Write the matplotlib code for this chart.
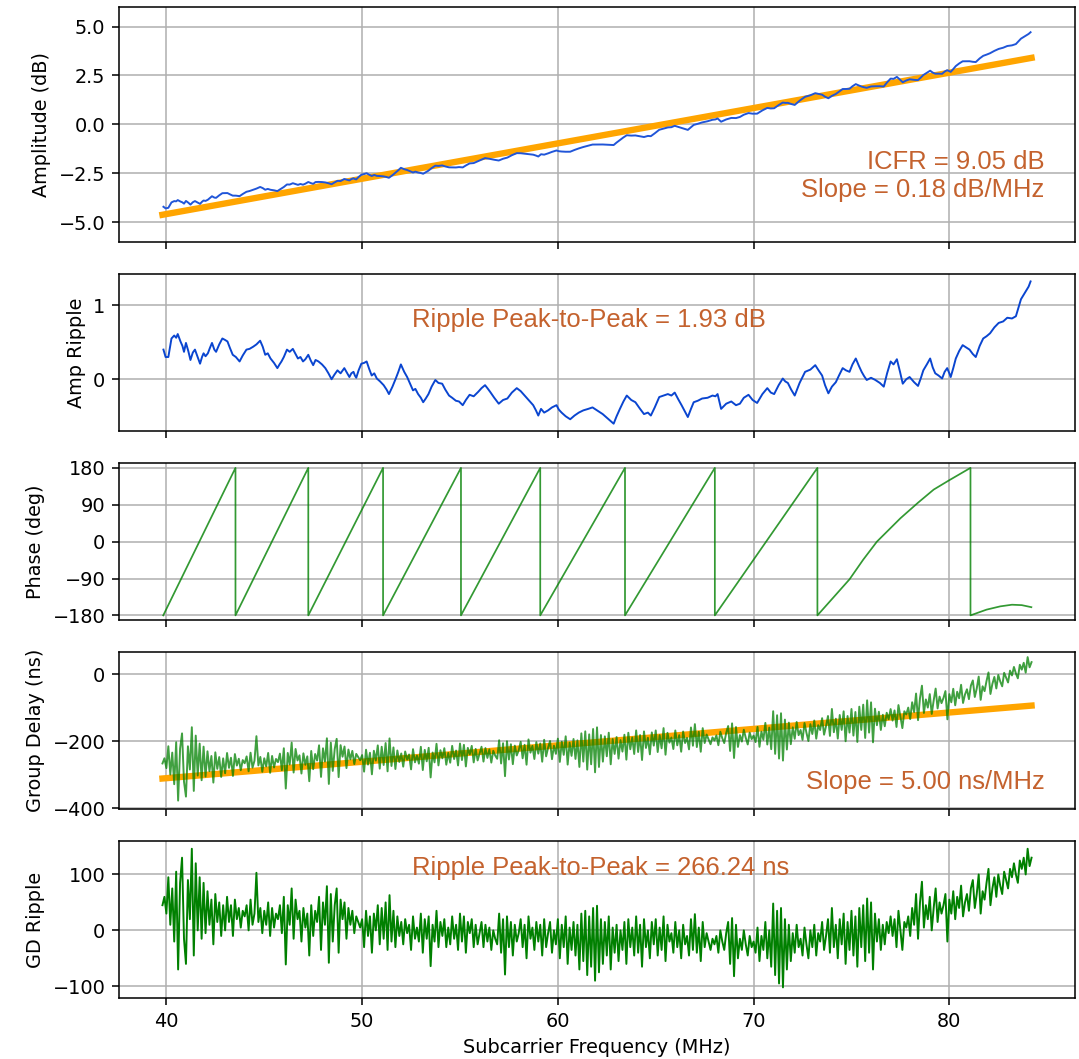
import numpy as np
import matplotlib
matplotlib.use("Agg")
import matplotlib.pyplot as plt

# ---- data ----
# amplitude fit line (end points) and amplitude ripple around it
amp_fit_freq = [39.8, 84.2]
amp_fit = [-4.62, 3.40]

amp_rip_freq = [
    39.85, 39.96, 40.10, 40.26, 40.40, 40.50, 40.58, 40.72, 40.82, 40.90,
    41.00, 41.12, 41.23, 41.35, 41.46, 41.60, 41.72, 41.82, 41.90, 42.00,
    42.12, 42.22, 42.33, 42.45, 42.54, 42.70, 42.86, 43.00, 43.12, 43.25,
    43.39, 43.55, 43.74, 43.90, 44.09, 44.25, 44.44, 44.60, 44.79, 44.92,
    45.05, 45.18, 45.32, 45.50, 45.67, 45.78, 45.88, 46.00, 46.16, 46.30,
    46.46, 46.60, 46.72, 46.85, 46.98, 47.10, 47.25, 47.38, 47.50, 47.62,
    47.77, 47.95, 48.12, 48.28, 48.44, 48.58, 48.74, 48.90, 49.09, 49.22,
    49.35, 49.45, 49.56, 49.63, 49.70, 49.82, 49.96, 50.10, 50.23, 50.36,
    50.49, 50.62, 50.75, 50.92, 51.10, 51.25, 51.37, 51.55, 51.72, 51.85,
    51.98, 52.15, 52.30, 52.45, 52.60, 52.72, 52.86, 53.00, 53.12, 53.25,
    53.39, 53.55, 53.74, 53.90, 54.09, 54.25, 54.44, 54.60, 54.79, 54.95,
    55.14, 55.30, 55.49, 55.70, 55.93, 56.10, 56.28, 56.40, 56.54, 56.75,
    56.98, 57.20, 57.42, 57.65, 57.90, 58.10, 58.30, 58.50, 58.74, 58.88,
    59.00, 59.14, 59.30, 59.50, 59.70, 59.93, 60.05, 60.19, 60.40, 60.63,
    60.85, 61.07, 61.30, 61.55, 61.77, 62.00, 62.29, 62.55, 62.85, 63.00,
    63.17, 63.35, 63.52, 63.75, 63.96, 64.20, 64.40, 64.60, 64.75, 64.95,
    65.18, 65.40, 65.62, 65.80, 65.97, 66.15, 66.32, 66.50, 66.64, 66.80,
    66.94, 67.15, 67.37, 67.65, 67.90, 68.05, 68.16, 68.25, 68.34, 68.60,
    68.86, 69.10, 69.30, 69.50, 69.74, 69.95, 70.18, 70.45, 70.70, 70.88,
    71.05, 71.28, 71.49, 71.62, 71.75, 71.92, 72.10, 72.35, 72.63, 72.90,
    73.15, 73.32, 73.50, 73.65, 73.82, 74.00, 74.20, 74.38, 74.55, 74.72,
    74.90, 75.05, 75.22, 75.38, 75.52, 75.65, 75.78, 76.00, 76.22, 76.45,
    76.65, 76.82, 77.00, 77.15, 77.32, 77.48, 77.62, 77.80, 77.97, 78.20,
    78.40, 78.55, 78.67, 78.85, 79.02, 79.15, 79.28, 79.45, 79.63, 79.76,
    79.89, 80.00, 80.07, 80.20, 80.33, 80.50, 80.68, 80.85, 81.03, 81.20,
    81.35, 81.55, 81.73, 81.90, 82.08, 82.30, 82.52, 82.75, 82.96, 83.20,
    83.40, 83.55, 83.66, 83.80, 83.92, 84.05, 84.15,
]
amp_ripple = [
    0.40, 0.30, 0.30, 0.55, 0.59, 0.56, 0.61, 0.51, 0.45, 0.37,
    0.49, 0.38, 0.26, 0.36, 0.40, 0.30, 0.21, 0.30, 0.35, 0.31,
    0.35, 0.42, 0.49, 0.40, 0.37, 0.47, 0.55, 0.53, 0.51, 0.42,
    0.33, 0.30, 0.24, 0.32, 0.40, 0.41, 0.44, 0.47, 0.52, 0.44,
    0.33, 0.35, 0.28, 0.22, 0.15, 0.20, 0.24, 0.30, 0.40, 0.37,
    0.41, 0.34, 0.28, 0.30, 0.24, 0.27, 0.33, 0.25, 0.19, 0.26,
    0.24, 0.20, 0.15, 0.08, 0.00, 0.06, 0.12, 0.08, 0.15, 0.09,
    0.03, 0.08, 0.10, 0.05, 0.02, 0.12, 0.21, 0.22, 0.24, 0.14,
    0.05, 0.08, 0.01, -0.03, -0.08, -0.14, -0.20, -0.10, 0.01, 0.10,
    0.20, 0.10, 0.03, -0.06, -0.15, -0.13, -0.20, -0.25, -0.31, -0.26,
    -0.20, -0.10, -0.01, -0.05, -0.06, -0.14, -0.22, -0.25, -0.29, -0.30,
    -0.35, -0.28, -0.21, -0.23, -0.17, -0.12, -0.08, -0.12, -0.17, -0.25,
    -0.33, -0.28, -0.26, -0.18, -0.12, -0.16, -0.22, -0.28, -0.35, -0.42,
    -0.49, -0.40, -0.45, -0.42, -0.38, -0.35, -0.41, -0.45, -0.50, -0.54,
    -0.49, -0.45, -0.42, -0.40, -0.38, -0.42, -0.47, -0.53, -0.60, -0.50,
    -0.40, -0.30, -0.22, -0.28, -0.31, -0.40, -0.47, -0.45, -0.49, -0.38,
    -0.24, -0.22, -0.20, -0.22, -0.18, -0.27, -0.35, -0.44, -0.51, -0.40,
    -0.31, -0.29, -0.26, -0.25, -0.22, -0.23, -0.20, -0.30, -0.40, -0.33,
    -0.30, -0.35, -0.33, -0.25, -0.21, -0.28, -0.32, -0.20, -0.12, -0.18,
    -0.20, -0.08, 0.01, -0.03, -0.05, -0.14, -0.22, -0.05, 0.10, 0.13,
    0.19, 0.12, 0.05, -0.08, -0.19, -0.10, -0.04, 0.06, 0.15, 0.12,
    0.10, 0.20, 0.28, 0.18, 0.10, 0.04, -0.01, 0.02, -0.01, -0.05,
    -0.10, 0.08, 0.24, 0.20, 0.27, 0.10, -0.06, 0.00, 0.03, -0.04,
    -0.09, 0.02, 0.12, 0.20, 0.28, 0.16, 0.08, 0.05, 0.01, 0.10,
    0.15, 0.08, 0.03, 0.15, 0.28, 0.38, 0.46, 0.43, 0.40, 0.34,
    0.30, 0.45, 0.55, 0.58, 0.62, 0.70, 0.76, 0.78, 0.83, 0.82,
    0.85, 0.98, 1.08, 1.14, 1.19, 1.25, 1.32,
]

# wrapped phase as seen (vertical jumps at the wrap points)
phase_freq = [
    39.84, 43.53, 43.53, 47.25, 47.25, 51.07, 51.07, 55.05, 55.05, 59.10,
    59.10, 63.43, 63.43, 68.02, 68.02, 73.26, 73.26, 74.10, 74.90, 75.60,
    76.30, 77.50, 78.40, 79.20, 80.00, 81.08, 81.08, 81.90, 82.60, 83.20,
    83.70, 84.19,
]
phase_deg = [
    -180, 180, -180, 180, -180, 180, -180, 180, -180, 180,
    -180, 180, -180, 180, -180, 180, -180, -135, -92, -44,
    0, 57, 95, 127, 150, 180, -180, -166, -158, -154,
    -155, -160,
]

# group delay fit line (end points) and GD ripple, one value per 0.1 MHz
gd_fit_freq = [39.8, 84.2]
gd_fit = [-311, -93]

gd_ripple = [
    45, 60,
    30, 95, 10, 75, -20, 105, -70, 85, 130, -15,
    -60, 90, 20, 146, -45, 120, 0, 95, -15, 85,
    -5, 70, 10, 55, -25, 65, 15, 50, -10, 45,
    0, 60, 15, 45, -10, 55, 20, 40, 5, 35,
    25, 45, 0, 55, 10, 30, 103, 15, 40, -5,
    35, 10, 50, -10, 40, 5, 30, 20, 45, -5,
    60, -61, 45, 10, 75, -15, 55, 20, 35, -20,
    40, 5, 30, -45, 45, -10, 35, 15, 60, -35,
    50, 10, 79, -58, 65, -20, 45, 75, -40, 55,
    20, 50, -15, 40, 10, 35, -5, 25, 15, 5,
    20, -30, 35, -10, 25, -40, 30, 0, 45, -25,
    40, -15, 50, -35, 63, -20, 35, -30, 25, -10,
    15, -25, 20, -5, 10, -35, 25, -15, 5, -20,
    30, -40, 20, -15, 25, -64, 10, -20, 35, -30,
    15, -10, 20, -30, 5, -25, 25, -15, 10, -35,
    30, -20, 25, -40, 15, -5, 20, -30, 10, -25,
    -5, 15, -30, 10, -20, 5, -35, 0, -15, -25,
    30, -40, 20, -79, 25, -30, 15, -45, 10, -20,
    -5, 20, -30, 10, -50, 25, -15, 5, -35, 15,
    -20, 10, -45, 20, -30, -5, 15, -40, 0, -25,
    20, -50, 10, -30, 25, -60, 5, -35, 15, -45,
    10, -70, 30, -55, 35, -80, 25, -65, 40, -90,
    44, -75, 20, -60, 15, -45, 25, -70, 5, -40,
    10, -55, 0, -35, 15, -60, 20, -30, 5, -45,
    25, -40, 10, -65, 20, -30, 0, -50, 15, -25,
    20, -45, 5, -35, 25, -55, 10, -20, -5, -40,
    15, -30, 0, -50, 10, -25, -10, -45, 20, -35,
    29, -40, 5, -55, 15, -30, -5, -20, -35, -15,
    -25, -10, -40, 0, -20, -35, -5, 15, -60, 22,
    -82, 10, -50, -15, -35, 0, -25, -45, -10, -30,
    -20, -40, 5, -55, -10, -35, 15, -50, 0, -65,
    48, -80, 35, -95, 40, -102, 20, -70, 10, -55,
    -5, -40, 10, -30, -15, -45, 5, -25, -50, 0,
    -30, 10, -45, -5, -20, 15, -35, -10, 20, -40,
    40, -30, 10, -50, 20, -25, 30, -60, 15, -35,
    35, -45, 25, -65, 40, -30, 45, -55, 57, -40,
    50, -70, 30, -20, 20, -35, 10, -25, 15, -5,
    25, -10, 20, -30, 35, 0, -35, 15, 5, 25,
    -10, 40, 10, 65, -15, 50, 87, 5, 45, 20,
    60, 0, 40, 75, 15, 50, 30, 45, 65, -20,
    55, 30, 70, 20, 60, 40, 80, 25, 50, 65,
    35, 75, 90, 40, 65, 100, 30, 70, 55, 85,
    110, 45, 75, 95, 60, 100, 80, 65, 105, 90,
    75, 110, 95, 120, 100, 85, 125, 110, 130, 100,
    146, 115, 130,
]

icfr_db = 9.05
amp_slope = 0.18
amp_p2p = 1.93
gd_slope = 5.00
gd_p2p = 266.24

# ---- derived series ----
amp_rip_freq = np.array(amp_rip_freq)
amp_ripple = np.array(amp_ripple)
# amplitude = linear fit + ripple
amplitude = np.interp(amp_rip_freq, amp_fit_freq, amp_fit) + amp_ripple

gd_freq = np.linspace(39.8, 84.2, len(gd_ripple))
gd_ripple = np.array(gd_ripple)
group_delay = np.interp(gd_freq, gd_fit_freq, gd_fit) + gd_ripple

# ---- figure ----
DPI = 139
fig = plt.figure(figsize=(1079 / DPI, 1059 / DPI), dpi=DPI)
gs = fig.add_gridspec(5, 1, height_ratios=[1.5, 1, 1, 1, 1],
                      left=0.1103, right=0.9963, top=0.9934, bottom=0.0576,
                      hspace=0.189)
axes = [fig.add_subplot(gs[0])]
for i in range(1, 5):
    axes.append(fig.add_subplot(gs[i], sharex=axes[0]))
ax1, ax2, ax3, ax4, ax5 = axes

txt_color = "#c4622e"
txt_font = ["Liberation Sans", "DejaVu Sans"]
txt_size = 13.3

# 1. amplitude
ax1.plot(amp_fit_freq, amp_fit, color="orange", lw=3.3, zorder=2)
ax1.plot(amp_rip_freq, amplitude, color="#2055d8", lw=1.0, zorder=3)
ax1.set_ylim(-6, 6)
ax1.set_yticks([-5, -2.5, 0, 2.5, 5])
ax1.set_ylabel("Amplitude (dB)")
ax1.text(0.968, 0.28, f"ICFR = {icfr_db:.2f} dB\nSlope = {amp_slope:.2f} dB/MHz",
         transform=ax1.transAxes, ha="right", va="center", multialignment="right",
         color=txt_color, fontsize=txt_size, family=txt_font)

# 2. amplitude ripple
ax2.plot(amp_rip_freq, amp_ripple, color="#0a45d0", lw=1.0)
ax2.set_yticks([0, 1])
ax2.set_ylabel("Amp Ripple")
ax2.text(0.3065, 0.71, f"Ripple Peak-to-Peak = {amp_p2p:.2f} dB",
         transform=ax2.transAxes, ha="left", va="center",
         color=txt_color, fontsize=txt_size, family=txt_font)

# 3. phase
ax3.plot(phase_freq, phase_deg, color="green", lw=0.9, alpha=0.8)
ax3.set_ylim(-191, 191)
ax3.set_yticks([-180, -90, 0, 90, 180])
ax3.set_ylabel("Phase (deg)")

# 4. group delay
ax4.plot(gd_fit_freq, gd_fit, color="orange", lw=3.3, zorder=2)
ax4.plot(gd_freq, group_delay, color="green", lw=1.0, alpha=0.75, zorder=3)
ax4.set_ylim(-402, 66)
ax4.set_yticks([-400, -200, 0])
ax4.set_ylabel("Group Delay (ns)")
ax4.text(0.968, 0.17, f"Slope = {gd_slope:.2f} ns/MHz",
         transform=ax4.transAxes, ha="right", va="center",
         color=txt_color, fontsize=txt_size, family=txt_font)

# 5. group delay ripple
ax5.plot(gd_freq, gd_ripple, color="green", lw=1.0)
ax5.set_ylim(-121, 159)
ax5.set_yticks([-100, 0, 100])
ax5.set_ylabel("GD Ripple")
ax5.text(0.3065, 0.83, f"Ripple Peak-to-Peak = {gd_p2p:.2f} ns",
         transform=ax5.transAxes, ha="left", va="center",
         color=txt_color, fontsize=txt_size, family=txt_font)

ax5.set_xlim(37.58, 86.42)
ax5.set_xticks([40, 50, 60, 70, 80])
ax5.set_xlabel("Subcarrier Frequency (MHz)")

for ax in axes:
    ax.grid(True)
for ax in axes[:-1]:
    ax.tick_params(labelbottom=False)

fig.savefig("out.png", dpi=DPI)
